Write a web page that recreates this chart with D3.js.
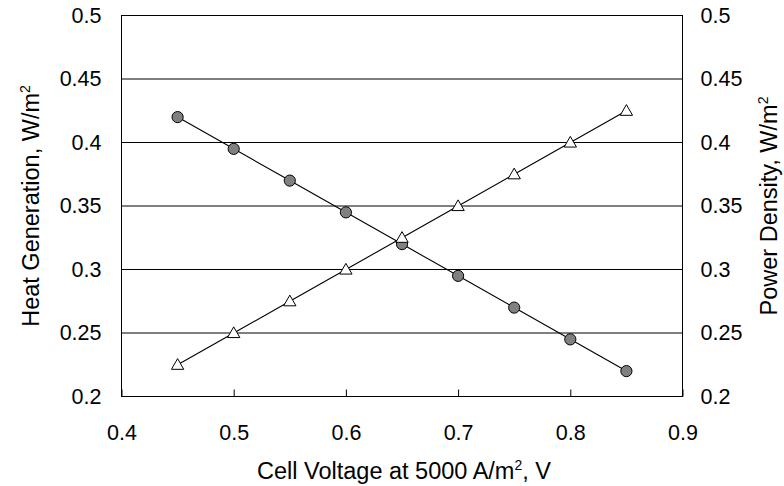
<!DOCTYPE html>
<html><head><meta charset="utf-8">
<script src="https://cdn.jsdelivr.net/npm/d3@7"></script>
<style>
body{margin:0;background:#fff;}
text{font-family:"Liberation Sans",Arial,sans-serif;fill:#000;}
</style></head>
<body><svg id="c" width="784" height="486"></svg>
<script>
const voltage = [0.45,0.5,0.55,0.6,0.65,0.7,0.75,0.8,0.85];
const heatGeneration = [0.42,0.395,0.37,0.345,0.32,0.295,0.27,0.245,0.22];
const powerDensity = [0.225,0.25,0.275,0.30,0.325,0.35,0.375,0.40,0.425];
const xTicks = [0.4,0.5,0.6,0.7,0.8,0.9];
const yTicks = [0.2,0.25,0.3,0.35,0.4,0.45,0.5];

const svg = d3.select("#c");
const m = {l:121.5, r:682.5, t:15.5, b:396.5};
const x = d3.scaleLinear().domain([0.4,0.9]).range([m.l,m.r]);
const yL = d3.scaleLinear().domain([0.2,0.5]).range([m.b,m.t]);
const yR = d3.scaleLinear().domain([0.2,0.5]).range([m.b,m.t]);
const fs = 21.5, ft = 23.5, fsup = 14;

// gridlines
svg.append("g").selectAll("line").data(yTicks.slice(1)).join("line")
  .attr("x1",m.l).attr("x2",m.r).attr("y1",d=>yL(d)).attr("y2",d=>yL(d))
  .attr("stroke","#000").attr("stroke-width",1);
// frame
svg.append("rect").attr("x",m.l).attr("y",m.t).attr("width",m.r-m.l).attr("height",m.b-m.t)
  .attr("fill","none").attr("stroke","#000").attr("stroke-width",1);

// x axis (inside ticks)
const gx = svg.append("g").attr("transform",`translate(0,${m.b})`)
  .call(d3.axisBottom(x).tickValues(xTicks).tickSize(-7).tickPadding(0).tickFormat(d3.format("")));
gx.select(".domain").remove();
gx.selectAll("text").attr("y",43).attr("dy",null).style("font-size",fs+"px").style("font-family","Liberation Sans, Arial, sans-serif");
gx.selectAll("line").attr("stroke","#000");

const gl = svg.append("g").attr("transform",`translate(${m.l},0)`)
  .call(d3.axisLeft(yL).tickValues(yTicks).tickSize(0).tickPadding(20).tickFormat(d3.format("")));
gl.select(".domain").remove();
gl.selectAll("text").style("font-size",fs+"px").style("font-family","Liberation Sans, Arial, sans-serif");

const gr = svg.append("g").attr("transform",`translate(${m.r},0)`)
  .call(d3.axisRight(yR).tickValues(yTicks).tickSize(0).tickPadding(18).tickFormat(d3.format("")));
gr.select(".domain").remove();
gr.selectAll("text").style("font-size",fs+"px").style("font-family","Liberation Sans, Arial, sans-serif");

// lines
const heat = voltage.map((v,i)=>[v,heatGeneration[i]]);
const pow = voltage.map((v,i)=>[v,powerDensity[i]]);
svg.append("path").datum(heat).attr("fill","none").attr("stroke","#000").attr("stroke-width",1.1)
  .attr("d",d3.line().x(d=>x(d[0])).y(d=>yL(d[1])));
svg.append("path").datum(pow).attr("fill","none").attr("stroke","#000").attr("stroke-width",1.1)
  .attr("d",d3.line().x(d=>x(d[0])).y(d=>yR(d[1])));

svg.append("g").selectAll("circle").data(heat).join("circle")
  .attr("cx",d=>x(d[0])).attr("cy",d=>yL(d[1])).attr("r",5.6)
  .attr("fill","#808080").attr("stroke","#000").attr("stroke-width",1);
svg.append("g").selectAll("path").data(pow).join("path")
  .attr("transform",d=>`translate(${x(d[0])},${yR(d[1])+1})`)
  .attr("d",d3.symbol(d3.symbolTriangle,66)())
  .attr("fill","#fff").attr("stroke","#000").attr("stroke-width",1);

// titles
const xt = svg.append("text").attr("x",(m.l+m.r)/2+2).attr("y",479).attr("text-anchor","middle").style("font-size",ft+"px");
xt.append("tspan").text("Cell Voltage at 5000 A/m");
xt.append("tspan").attr("dy",-9).style("font-size",fsup+"px").text("2");
xt.append("tspan").attr("dy",9).text(", V");

const lt = svg.append("text").attr("transform",`translate(39,${(m.t+m.b)/2}) rotate(-90)`).attr("text-anchor","middle").style("font-size",ft+"px");
lt.append("tspan").text("Heat Generation, W/m");
lt.append("tspan").attr("dy",-9).style("font-size",fsup+"px").text("2");

const rt = svg.append("text").attr("transform",`translate(777,${(m.t+m.b)/2}) rotate(-90)`).attr("text-anchor","middle").style("font-size",ft+"px");
rt.append("tspan").text("Power Density,  W/m");
rt.append("tspan").attr("dy",-9).style("font-size",fsup+"px").text("2");
</script></body></html>
